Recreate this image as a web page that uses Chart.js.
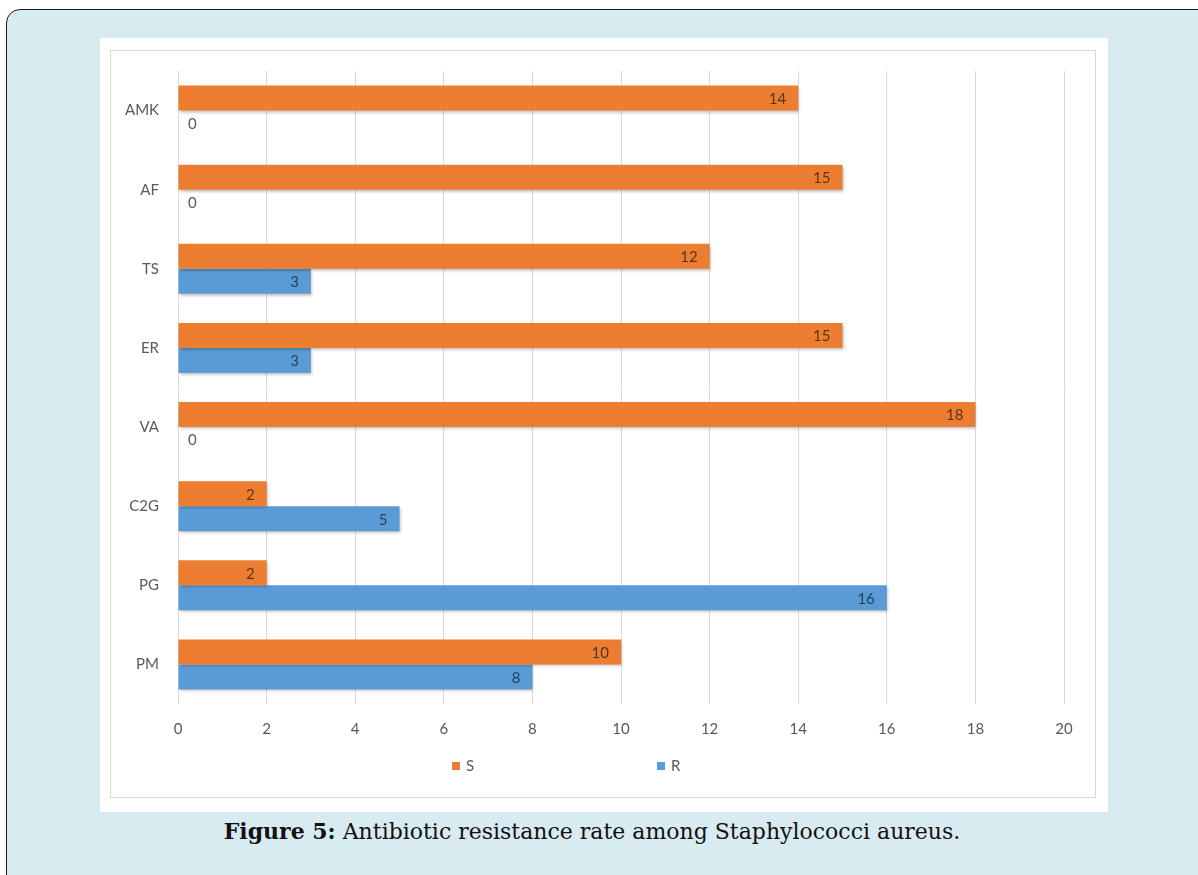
<!DOCTYPE html>
<html>
<head>
<meta charset="utf-8">
<script src="https://cdn.jsdelivr.net/npm/chart.js@4/dist/chart.umd.min.js"></script>
<style>
  html, body { margin: 0; padding: 0; background: #fff; }
  body { width: 1198px; height: 875px; position: relative; overflow: hidden; }
  #frame { position: absolute; left: 6px; top: 9px; width: 1230px; height: 900px;
           background: #d8ebf1; border: 1.5px solid #1a1a1a; border-radius: 14px; }
  #paper { position: absolute; left: 100px; top: 38px; width: 1008px; height: 774px; background: #fff; }
  #box { position: absolute; left: 110px; top: 50px; width: 986px; height: 748px;
         box-sizing: border-box; border: 1px solid #d9d9d9; }
  #box canvas { position: absolute; left: 0; top: 0; }
  .leg { position: absolute; top: 756px; font: 15px Lato, sans-serif; color: #595959; }
  .leg i { display: inline-block; width: 8px; height: 8px; margin-right: 6px; vertical-align: 1px; }
  #caption { position: absolute; left: 0; width: 1184px; top: 818px; text-align: center;
             font: 22px "DejaVu Serif", serif; color: #111; }
</style>
</head>
<body>
<div id="frame"></div>
<div id="paper"></div>
<div id="box"><canvas id="myChart" width="986" height="748"></canvas></div>
<div class="leg" style="left:452px"><i style="background:#ED7D31"></i>S</div>
<div class="leg" style="left:657px"><i style="background:#5B9BD5"></i>R</div>
<div id="caption"><b>Figure 5:</b> Antibiotic resistance rate among Staphylococci aureus.</div>
<script>
const categories = ['AMK', 'AF', 'TS', 'ER', 'VA', 'C2G', 'PG', 'PM'];
const sValues = [14, 15, 12, 15, 18, 2, 2, 10];
const rValues = [0, 0, 3, 3, 0, 5, 16, 8];
const xTicks = [0, 2, 4, 6, 8, 10, 12, 14, 16, 18, 20];

// shadow under bars + value labels like Excel "inside end"
const barLabels = {
    id: 'barLabels',
    beforeDatasetsDraw(chart) {
        const ctx = chart.ctx;
        ctx.save();
        ctx.shadowColor = 'rgba(0,0,0,0.28)';
        ctx.shadowBlur = 3;
        ctx.shadowOffsetX = 1;
        ctx.shadowOffsetY = 2;
    },
    afterDatasetsDraw(chart) {
        const ctx = chart.ctx;
        ctx.restore();
        ctx.save();
        ctx.font = '15px Lato, sans-serif';
        ctx.textBaseline = 'middle';
        chart.data.datasets.forEach((ds, i) => {
            chart.getDatasetMeta(i).data.forEach((bar, j) => {
                const v = ds.data[j];
                if (v > 0) {
                    ctx.fillStyle = i === 0 ? '#5b3418' : '#1f3f5f';
                    ctx.textAlign = 'right';
                    ctx.fillText(v, bar.x - 12, bar.y + 1);
                } else {
                    ctx.fillStyle = '#595959';
                    ctx.textAlign = 'left';
                    ctx.fillText(v, bar.base + 10, bar.y + 1);
                }
            });
        });
        ctx.restore();
    }
};

const ctx = document.getElementById('myChart').getContext('2d');
new Chart(ctx, {
    type: 'bar',
    data: {
        labels: categories,
        datasets: [
            { label: 'S', data: sValues, backgroundColor: '#ED7D31' },
            { label: 'R', data: rValues, backgroundColor: '#5B9BD5' }
        ]
    },
    options: {
        indexAxis: 'y',
        responsive: false,
        animation: false,
        categoryPercentage: 0.632,
        barPercentage: 1,
        layout: { padding: { top: 20, right: 33, left: 0, bottom: 55 } },
        plugins: { legend: { display: false }, tooltip: { enabled: false } },
        scales: {
            x: {
                min: 0, max: 20,
                afterBuildTicks: s => { s.ticks = xTicks.map(v => ({ value: v })); },
                afterFit: s => { s.height = 40; },
                grid: { color: '#d9d9d9', drawTicks: false },
                border: { display: false },
                ticks: { padding: 16, color: '#595959', font: { family: 'Lato', size: 15 } }
            },
            y: {
                afterFit: s => { s.width = 67; s.paddingTop = 0; s.paddingBottom = 0; },
                grid: { display: false, drawTicks: false },
                border: { display: false },
                ticks: { padding: 19, color: '#595959', font: { family: 'Lato', size: 15 } }
            }
        }
    },
    plugins: [barLabels]
});
</script>
</body>
</html>
